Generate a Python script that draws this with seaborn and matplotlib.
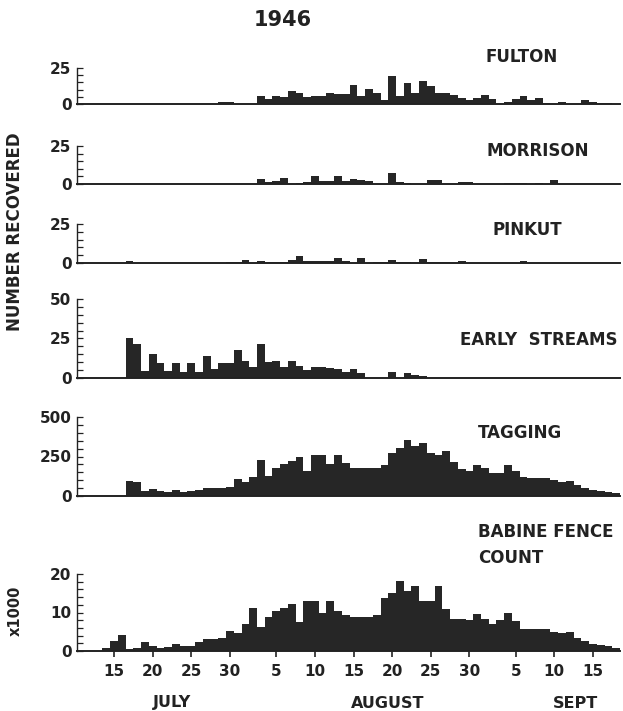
import numpy as np
import pandas as pd
import matplotlib
matplotlib.use("Agg")
import matplotlib.pyplot as plt
from matplotlib.ticker import MultipleLocator, FixedLocator
import seaborn as sns

# ---------------- data ----------------
# day number: July d -> d, August d -> 31 + d, September d -> 62 + d
days = list(range(14, 81))          # Jul 14 .. Sep 18

def series(july=None, aug=None, sep=None):
    """Build a day-indexed list from per-month {day: value} readings."""
    out = [0.0] * len(days)
    for base, dct in ((0, july), (31, aug), (62, sep)):
        if dct:
            for d, v in dct.items():
                out[days.index(base + d)] = v
    return out

fulton_jul = {29: 1.5, 30: 1.5}
fulton_aug = {3: 5.8, 4: 3.6, 5: 5.8, 6: 4.7, 7: 8.8, 8: 7.5, 9: 4.7, 10: 5.8,
              11: 5.8, 12: 7.9, 13: 7.1, 14: 7.1, 15: 12.9, 16: 5.4, 17: 10.5,
              18: 7.5, 19: 3.0, 20: 19.5, 21: 5.4, 22: 14.3, 23: 7.5, 24: 15.7,
              25: 12.4, 26: 7.9, 27: 7.9, 28: 6.5, 29: 4.5, 30: 3.0, 31: 4.5}
fulton_sep = {1: 6.5, 2: 3.5, 4: 1.7, 5: 3.2, 6: 5.4, 7: 2.6, 8: 3.9, 9: 1.0,
              11: 1.7, 14: 2.6, 15: 1.3, 16: 0.6, 17: 0.6}

morrison_aug = {3: 3.3, 4: 1.1, 5: 2.2, 6: 3.7, 8: 0.7, 9: 1.5, 10: 5.4,
                11: 2.2, 12: 1.7, 13: 5.2, 14: 2.0, 15: 3.3, 16: 2.6, 17: 2.0,
                20: 7.2, 21: 1.5, 22: 0.4, 25: 2.6, 26: 2.6, 29: 1.5, 30: 1.5}
morrison_sep = {4: 0.9, 5: 0.9, 6: 0.9, 8: 0.7, 10: 2.8}

pinkut_jul = {17: 1.5, 30: 0.5, 31: 0.5}
pinkut_aug = {1: 1.8, 3: 1.2, 4: 0.8, 5: 0.8, 6: 0.8, 7: 2.0, 8: 4.6, 9: 1.3,
              10: 1.3, 11: 1.3, 12: 1.3, 13: 3.5, 14: 1.3, 16: 3.0, 18: 0.9,
              19: 0.9, 20: 2.0, 21: 0.9, 22: 0.9, 24: 2.4, 25: 0.9, 26: 0.9,
              27: 0.9, 29: 1.5}
pinkut_sep = {6: 1.3}

early_jul = {17: 25.1, 18: 21.5, 19: 4.7, 20: 15.0, 21: 9.2, 22: 4.7, 23: 9.2,
             24: 4.1, 25: 9.7, 26: 3.6, 27: 13.9, 28: 5.4, 29: 9.7, 30: 9.2,
             31: 17.8}
early_aug = {1: 10.7, 2: 6.9, 3: 21.5, 4: 10.1, 5: 10.9, 6: 6.9, 7: 10.5,
             8: 7.9, 9: 4.9, 10: 6.8, 11: 6.8, 12: 6.4, 13: 5.5, 14: 3.8,
             15: 5.5, 16: 3.2, 20: 3.8, 22: 3.2, 23: 1.7, 24: 1.3}

tagging_jul = {17: 95, 18: 89, 19: 32, 20: 47, 21: 34, 22: 23, 23: 36, 24: 25,
               25: 30, 26: 36, 27: 53, 28: 51, 29: 51, 30: 59, 31: 108}
tagging_aug = {1: 91, 2: 123, 3: 225, 4: 129, 5: 178, 6: 203, 7: 220, 8: 246,
               9: 159, 10: 261, 11: 261, 12: 201, 13: 260, 14: 212, 15: 176,
               16: 176, 17: 176, 18: 176, 19: 197, 20: 271, 21: 303, 22: 356,
               23: 314, 24: 335, 25: 271, 26: 261, 27: 282, 28: 218, 29: 169,
               30: 159, 31: 197}
tagging_sep = {1: 176, 2: 144, 3: 144, 4: 197, 5: 159, 6: 123, 7: 112, 8: 112,
               9: 112, 10: 102, 11: 91, 12: 95, 13: 70, 14: 49, 15: 38, 16: 34,
               17: 28, 18: 21}

babine_jul = {14: 0.9, 15: 2.5, 16: 4.1, 17: 0.6, 18: 0.9, 19: 2.3, 20: 1.2,
              21: 0.9, 22: 1.0, 23: 1.7, 24: 1.3, 25: 1.2, 26: 2.4, 27: 3.1,
              28: 3.0, 29: 3.4, 30: 5.1, 31: 4.7}
babine_aug = {1: 7.0, 2: 11.2, 3: 6.3, 4: 8.9, 5: 10.4, 6: 11.2, 7: 12.3,
              8: 7.6, 9: 13.0, 10: 13.0, 11: 9.9, 12: 13.0, 13: 10.3, 14: 9.3,
              15: 8.9, 16: 8.9, 17: 8.9, 18: 9.3, 19: 13.7, 20: 15.0, 21: 18.3,
              22: 15.7, 23: 16.9, 24: 13.0, 25: 13.0, 26: 16.9, 27: 11.0,
              28: 8.4, 29: 8.4, 30: 8.0, 31: 9.5}
babine_sep = {1: 8.4, 2: 7.0, 3: 8.0, 4: 9.9, 5: 7.7, 6: 5.8, 7: 5.6, 8: 5.6,
              9: 5.7, 10: 5.0, 11: 4.7, 12: 5.0, 13: 3.5, 14: 2.6, 15: 1.9,
              16: 1.5, 17: 1.2, 18: 0.9}

panel_names = ["FULTON", "MORRISON", "PINKUT", "EARLY  STREAMS", "TAGGING",
               "BABINE FENCE\nCOUNT"]
panel_values = [
    series(fulton_jul, fulton_aug, fulton_sep),
    series(None, morrison_aug, morrison_sep),
    series(pinkut_jul, pinkut_aug, pinkut_sep),
    series(early_jul, early_aug),
    series(tagging_jul, tagging_aug, tagging_sep),
    series(babine_jul, babine_aug, babine_sep),
]
y_top = [25, 25, 25, 50, 500, 20]
y_labels = [[0, 25], [0, 25], [0, 25], [0, 25, 50], [0, 250, 500], [0, 10, 20]]
y_minor = [5, 5, 5, 5, 50, 2]

x_tick_days = [15, 20, 25, 30, 36, 41, 46, 51, 56, 61, 67, 72, 77]
x_tick_labels = ["15", "20", "25", "30", "5", "10", "15", "20", "25", "30",
                 "5", "10", "15"]
months = ["JULY", "AUGUST", "SEPT"]

# ---------------- layout ----------------
W, H = 623, 711
sns.set_theme(style="white")
plt.rcParams["font.family"] = ["DejaVu Sans"]
fig = plt.figure(figsize=(W / 100, H / 100), dpi=100)
fig.patch.set_facecolor("white")

def fx(x):
    return x / W

def fy(y):
    return 1 - y / H

left, right = 77, 620
panel_px = [(68, 104), (146, 184), (224, 263), (299, 378), (417, 496), (574, 651)]
label_pos = [(522, 57, "center"), (538, 151, "center"), (527, 230, "center"),
             (539, 340, "center"), (520, 433, "center"), (478, 545, "left")]

bar_color = "#262626"
txt = dict(color="#222222", fontweight="bold")

for i, (top, bot) in enumerate(panel_px):
    ax = fig.add_axes([fx(left), fy(bot), fx(right) - fx(left), (bot - top) / H])
    df = pd.DataFrame({"day": days, "value": panel_values[i]})
    sns.histplot(data=df, x="day", weights="value", discrete=True, shrink=1,
                 color=bar_color, alpha=1, linewidth=0, ax=ax)
    ax.set_xlim(10.2, 80.5)
    ax.set_ylim(0, y_top[i])
    ax.set_xlabel("")
    ax.set_ylabel("")
    for s in ("top", "right"):
        ax.spines[s].set_visible(False)
    ax.spines["left"].set_color("#222222")
    ax.spines["left"].set_linewidth(1.0)
    ax.spines["bottom"].set_color("#222222")
    ax.spines["bottom"].set_linewidth(1.4)
    ax.yaxis.set_major_locator(FixedLocator(y_labels[i]))
    ax.yaxis.set_minor_locator(MultipleLocator(y_minor[i]))
    ax.set_yticklabels([str(v) for v in y_labels[i]], fontsize=11, **txt)
    ax.tick_params(axis="y", which="both", direction="in", length=4, width=0.9,
                   color="#222222", pad=4, left=True)
    ax.patch.set_alpha(0)
    if i < 5:
        ax.set_xticks([])
    else:
        ax.set_xticks(x_tick_days)
        ax.set_xticklabels(x_tick_labels, fontsize=11, **txt)
        ax.tick_params(axis="x", direction="out", length=4, width=1.2,
                       color="#222222", pad=5, bottom=True)
    lx, ly, ha = label_pos[i]
    fig.text(fx(lx), fy(ly), panel_names[i], ha=ha, va="center", fontsize=12,
             linespacing=1.55, **txt)

fig.text(fx(283), fy(20), "1946", ha="center", va="center", fontsize=15, **txt)
fig.text(fx(15), fy(232), "NUMBER RECOVERED", rotation=90, ha="center",
         va="center", fontsize=12, **txt)
fig.text(fx(15), fy(611), "x1000", rotation=90, ha="center", va="center",
         fontsize=10.5, **txt)
for m, mx in zip(months, [172, 388, 575]):
    fig.text(fx(mx), fy(703), m, ha="center", va="center", fontsize=11.5, **txt)

fig.savefig("out.png", dpi=100, facecolor="white")
